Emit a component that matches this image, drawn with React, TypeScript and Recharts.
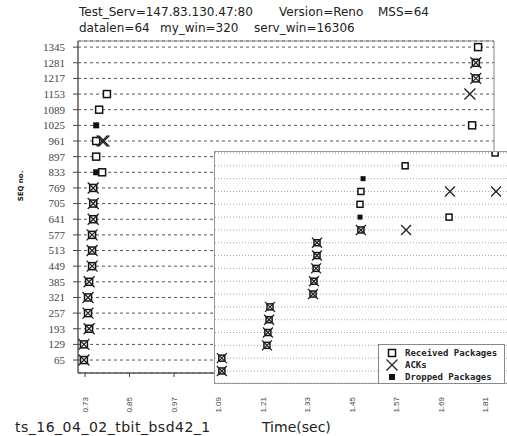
import React from "react";
import {
  CartesianGrid,
  ReferenceArea,
  Scatter,
  ScatterChart,
  XAxis,
  YAxis,
} from "recharts";

// main plot: time (sec) vs sequence number
const seqTicks = [
  65, 129, 193, 257, 321, 385, 449, 513, 577, 641, 705, 769, 833, 897, 961,
  1025, 1089, 1153, 1217, 1281, 1345,
];
const timeTicks = [0.73, 0.85, 0.97, 1.09, 1.21, 1.33, 1.45, 1.57, 1.69, 1.81];

const mainReceived = [
  { t: 0.727, seq: 65 },
  { t: 0.727, seq: 129 },
  { t: 0.741, seq: 193 },
  { t: 0.738, seq: 257 },
  { t: 0.738, seq: 321 },
  { t: 0.741, seq: 385 },
  { t: 0.749, seq: 449 },
  { t: 0.749, seq: 513 },
  { t: 0.749, seq: 577 },
  { t: 0.752, seq: 641 },
  { t: 0.752, seq: 705 },
  { t: 0.752, seq: 769 },
  { t: 0.776, seq: 833 },
  { t: 0.76, seq: 897 },
  { t: 0.76, seq: 961 },
  { t: 0.768, seq: 1089 },
  { t: 0.789, seq: 1153 },
  { t: 1.774, seq: 1025 },
  { t: 1.784, seq: 1217 },
  { t: 1.784, seq: 1281 },
  { t: 1.79, seq: 1345 },
];
const mainDropped = [
  { t: 0.76, seq: 833 },
  { t: 0.76, seq: 1025 },
];
const mainAcks = [
  { t: 0.727, seq: 65 },
  { t: 0.727, seq: 129 },
  { t: 0.741, seq: 193 },
  { t: 0.738, seq: 257 },
  { t: 0.738, seq: 321 },
  { t: 0.741, seq: 385 },
  { t: 0.749, seq: 449 },
  { t: 0.749, seq: 513 },
  { t: 0.749, seq: 577 },
  { t: 0.752, seq: 641 },
  { t: 0.752, seq: 705 },
  { t: 0.752, seq: 769 },
  { t: 0.776, seq: 961 },
  { t: 0.781, seq: 961 },
  { t: 1.768, seq: 1153 },
  { t: 1.784, seq: 1217 },
  { t: 1.784, seq: 1281 },
];

// inset plot (own time axis, unlabeled ticks every 0.1s)
const insetSeqTicks = seqTicks.slice(0, 18);
const insetTimeTicks = [0, 0.1, 0.2, 0.3, 0.4, 0.5, 0.6, 0.7, 0.8, 0.9];

const insetReceived = [
  { t: 0.006, seq: 65 },
  { t: 0.006, seq: 129 },
  { t: 0.154, seq: 193 },
  { t: 0.157, seq: 257 },
  { t: 0.161, seq: 321 },
  { t: 0.164, seq: 385 },
  { t: 0.305, seq: 449 },
  { t: 0.308, seq: 513 },
  { t: 0.315, seq: 577 },
  { t: 0.318, seq: 641 },
  { t: 0.318, seq: 705 },
  { t: 0.462, seq: 769 },
  { t: 0.751, seq: 833 },
  { t: 0.459, seq: 897 },
  { t: 0.462, seq: 961 },
  { t: 0.607, seq: 1089 },
  { t: 0.902, seq: 1153 },
];
const insetDropped = [
  { t: 0.459, seq: 833 },
  { t: 0.469, seq: 1025 },
];
const insetAcks = [
  { t: 0.006, seq: 65 },
  { t: 0.006, seq: 129 },
  { t: 0.154, seq: 193 },
  { t: 0.157, seq: 257 },
  { t: 0.161, seq: 321 },
  { t: 0.164, seq: 385 },
  { t: 0.305, seq: 449 },
  { t: 0.308, seq: 513 },
  { t: 0.315, seq: 577 },
  { t: 0.318, seq: 641 },
  { t: 0.318, seq: 705 },
  { t: 0.462, seq: 769 },
  { t: 0.61, seq: 769 },
  { t: 0.754, seq: 961 },
  { t: 0.905, seq: 961 },
];

const legendItems = ["Received Packages", "ACKs", "Dropped Packages"];

// title pieces with their left offsets
const titleLine1 = [
  ["Test_Serv=147.83.130.47:80", 79],
  ["Version=Reno", 279],
  ["MSS=64", 378],
] as const;
const titleLine2 = [
  ["datalen=64", 79],
  ["my_win=320", 160],
  ["serv_win=16306", 254],
] as const;

const openSquare = (s: number) => (p: any) => (
  <rect x={p.cx - s / 2} y={p.cy - s / 2} width={s} height={s} fill="#fff" stroke="#111" strokeWidth={1.5} />
);
const filledSquare = (s: number) => (p: any) => (
  <rect x={p.cx - s / 2} y={p.cy - s / 2} width={s} height={s} fill="#111" />
);
const cross = (s: number) => (p: any) => (
  <path
    d={`M${p.cx - s / 2},${p.cy - s / 2}L${p.cx + s / 2},${p.cy + s / 2}M${p.cx - s / 2},${p.cy + s / 2}L${p.cx + s / 2},${p.cy - s / 2}`}
    stroke="#222"
    strokeWidth={1.3}
    fill="none"
  />
);

function TimeTick({ x, y, payload }: any) {
  return (
    <text
      x={x}
      y={y}
      dy="0.35em"
      transform={`rotate(-90 ${x} ${y})`}
      textAnchor="end"
      fontSize={8}
      fontFamily="Liberation Sans"
      fill="#444"
    >
      {payload.value.toFixed(2)}
    </text>
  );
}

function LegendMark({ i }: { i: number }) {
  return (
    <svg width={12} height={12} style={{ display: "block" }}>
      {i === 0 && <rect x={2.5} y={2.5} width={7} height={7} fill="#fff" stroke="#111" strokeWidth={1.5} />}
      {i === 1 && <path d="M0.5,0.5L11.5,11.5M0.5,11.5L11.5,0.5" stroke="#222" strokeWidth={1.3} />}
      {i === 2 && <rect x={3} y={3} width={6} height={6} fill="#111" />}
    </svg>
  );
}

export default function App() {
  const titleStyle = { position: "absolute" as const, fontSize: 12, color: "#222", whiteSpace: "pre" as const };
  return (
    <div
      style={{
        position: "absolute",
        left: 0,
        top: 0,
        width: 507,
        height: 436,
        overflow: "hidden",
        background: "#fff",
        fontFamily: "DejaVu Sans",
      }}
    >
      {titleLine1.map(([s, x]) => (
        <div key={s} style={{ ...titleStyle, left: x, top: 5 }}>{s}</div>
      ))}
      {titleLine2.map(([s, x]) => (
        <div key={s} style={{ ...titleStyle, left: x, top: 21 }}>{s}</div>
      ))}

      <div style={{ position: "absolute", left: 0, top: 0 }}>
        <ScatterChart width={507} height={436} margin={{ top: 41, right: 13, bottom: 23, left: 48 }}>
          <CartesianGrid vertical={false} stroke="#555" strokeDasharray="3 3" />
          <ReferenceArea x1={0.711} x2={1.833} y1={12} y2={1370} fill="none" stroke="#888" />
          <XAxis
            type="number"
            dataKey="t"
            domain={[0.711, 1.833]}
            ticks={timeTicks}
            interval={0}
            allowDataOverflow
            height={40}
            tickSize={4}
            tickMargin={20}
            stroke="#444"
            tick={<TimeTick />}
          />
          <YAxis
            type="number"
            dataKey="seq"
            domain={[12, 1370]}
            ticks={seqTicks}
            interval={0}
            allowDataOverflow
            width={30}
            tickSize={5}
            tickMargin={8}
            stroke="#444"
            tick={{ fontSize: 11, fontFamily: "Liberation Serif", fill: "#444" }}
          />
          <Scatter data={mainReceived} shape={openSquare(7)} isAnimationActive={false} />
          <Scatter data={mainDropped} shape={filledSquare(6)} isAnimationActive={false} />
          <Scatter data={mainAcks} shape={cross(11)} isAnimationActive={false} />
        </ScatterChart>
      </div>

      <div
        style={{
          position: "absolute",
          left: 214,
          top: 151,
          width: 296,
          height: 233,
          boxSizing: "border-box",
          border: "1px solid #999",
          background: "#fff",
        }}
      >
        <ScatterChart width={294} height={231} margin={{ top: 0, right: 0, bottom: 0, left: 0 }}>
          <CartesianGrid vertical={false} stroke="#aaa" strokeDasharray="1 2" />
          <XAxis
            type="number"
            dataKey="t"
            domain={[-0.0164, 0.9475]}
            ticks={insetTimeTicks}
            interval={0}
            allowDataOverflow
            mirror
            height={0}
            tickSize={3}
            tickFormatter={() => ""}
            stroke="#888"
          />
          <YAxis
            type="number"
            dataKey="seq"
            domain={[5, 1158]}
            ticks={insetSeqTicks}
            interval={0}
            allowDataOverflow
            hide
          />
          <Scatter data={insetReceived} shape={openSquare(6)} isAnimationActive={false} />
          <Scatter data={insetDropped} shape={filledSquare(5)} isAnimationActive={false} />
          <Scatter data={insetAcks} shape={cross(10)} isAnimationActive={false} />
        </ScatterChart>
      </div>

      <div
        style={{
          position: "absolute",
          left: 378,
          top: 344,
          width: 127,
          height: 40,
          boxSizing: "border-box",
          border: "1px solid #888",
          background: "#fff",
          paddingTop: 2,
        }}
      >
        {legendItems.map((name, i) => (
          <div key={name} style={{ display: "flex", alignItems: "center", height: 12 }}>
            <div style={{ width: 26, display: "flex", justifyContent: "center" }}>
              <LegendMark i={i} />
            </div>
            <span style={{ fontFamily: "DejaVu Sans Mono", fontWeight: "bold", fontSize: 9, color: "#222" }}>{name}</span>
          </div>
        ))}
      </div>

      <div
        style={{
          position: "absolute",
          left: 21,
          top: 186,
          transform: "translate(-50%, -50%) rotate(-90deg)",
          fontSize: 7,
          fontWeight: "bold",
          color: "#222",
          whiteSpace: "pre",
        }}
      >
        SEQ no.
      </div>

      <div style={{ position: "absolute", left: 15, top: 419, fontSize: 14, letterSpacing: 0.5, color: "#222", whiteSpace: "pre" }}>
        ts_16_04_02_tbit_bsd42_1
      </div>
      <div style={{ position: "absolute", left: 262, top: 419, fontSize: 14, color: "#222", whiteSpace: "pre" }}>
        Time(sec)
      </div>
    </div>
  );
}
